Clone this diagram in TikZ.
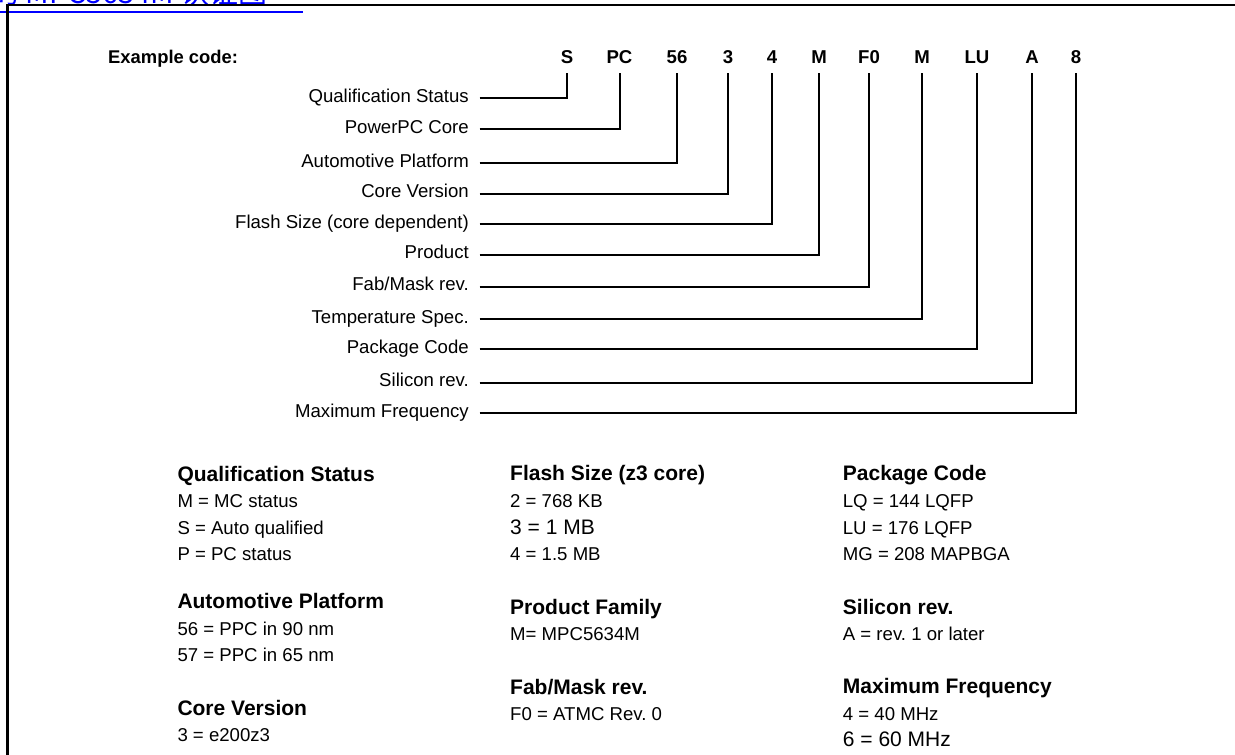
\documentclass[tikz,border=0pt]{standalone}
\usepackage{fontspec}
\setmainfont{Liberation Sans}
\newfontfamily\cjkfont{Noto Sans CJK SC}
\frenchspacing
\begin{document}
\begin{tikzpicture}[x=1pt,y=-1pt,
  lab/.style={anchor=east, inner xsep=0pt, inner ysep=0pt, text height=12pt, text depth=3.2pt, font=\fontsize{18.6}{22}\selectfont},
  codebox/.style={anchor=base, inner xsep=0pt, inner ysep=9.4pt, text depth=0pt, font=\fontsize{18.6}{22}\selectfont\bfseries},
  conn/.style={line width=2pt, shorten <=10.5pt},
  head/.style={anchor=base west, inner sep=0pt, font=\fontsize{21}{25}\selectfont\bfseries},
  row/.style={anchor=base west, inner sep=0pt, font=\fontsize{18.6}{22}\selectfont},
  rowbig/.style={anchor=base west, inner sep=0pt, font=\fontsize{21}{25}\selectfont},
]
\useasboundingbox (0,0) rectangle (1235,755);
\clip (0,0) rectangle (1235,755);

% cut-off blue heading
\node[anchor=base west, inner sep=0pt, text=blue, font=\cjkfont\fontsize{29}{30}\selectfont] (hdr) at (-10,3.5) {的 MPC5634M 认证图};
\draw[blue, line width=2pt] (0,12.3) -- (303,12.3);

% frame
\draw[line width=2.5pt] (7.5,770) -- (7.5,5) -- (1250,5);

% example code
\node[anchor=base west, inner sep=0pt, font=\fontsize{18.4}{22}\selectfont\bfseries] (ex) at (108,63.3) {Example code:};

\node[codebox] (c1) at (567,63.3) {S};
\node[codebox] (c2) at (619.5,63.3) {PC};
\node[codebox] (c3) at (677,63.3) {56};
\node[codebox] (c4) at (728,63.3) {3};
\node[codebox] (c5) at (772,63.3) {4};
\node[codebox] (c6) at (819,63.3) {M};
\node[codebox] (c7) at (869,63.3) {F0};
\node[codebox] (c8) at (922,63.3) {M};
\node[codebox] (c9) at (977,63.3) {LU};
\node[codebox] (c10) at (1032,63.3) {A};
\node[codebox] (c11) at (1076,63.3) {8};

\node[lab] (l1) at (469,98.3) {Qualification Status};
\node[lab] (l2) at (469,129.3) {PowerPC Core};
\node[lab] (l3) at (469,162.7) {Automotive Platform};
\node[lab] (l4) at (469,193.5) {Core Version};
\node[lab] (l5) at (469,224) {Flash Size (core dependent)};
\node[lab] (l6) at (469,254.5) {Product};
\node[lab] (l7) at (469,286.5) {Fab/Mask rev.};
\node[lab] (l8) at (469,318.7) {Temperature Spec.};
\node[lab] (l9) at (469,349) {Package Code};
\node[lab] (l10) at (469,382.5) {Silicon rev.};
\node[lab] (l11) at (469,413) {Maximum Frequency};

\foreach \i in {1,...,11} {
  \draw[conn] (l\i.east) -| (c\i.south);
}

% legend column 1
\node[head] (q0) at (177.3,481) {Qualification Status};
\node[row] (q1) at (177.3,507.5) {M = MC status};
\node[row] (q2) at (177.3,534) {S = Auto qualified};
\node[row] (q3) at (177.3,560) {P = PC status};
\node[head] (a0) at (177.3,608.3) {Automotive Platform};
\node[row] (a1) at (177.3,635) {56 = PPC in 90 nm};
\node[row] (a2) at (177.3,661) {57 = PPC in 65 nm};
\node[head] (v0) at (177.3,715) {Core Version};
\node[row] (v1) at (177.3,741) {3 = e200z3};

% legend column 2
\node[head] (f0) at (510,480) {Flash Size (z3 core)};
\node[row] (f1) at (510,507.3) {2 = 768 KB};
\node[rowbig] (f2) at (510,534) {3 = 1 MB};
\node[row] (f3) at (510,560) {4 = 1.5 MB};
\node[head] (p0) at (510,614.3) {Product Family};
\node[row] (p1) at (510,640.7) {M= MPC5634M};
\node[head] (m0) at (510,694.3) {Fab/Mask rev.};
\node[row] (m1) at (510,720) {F0 = ATMC Rev. 0};

% legend column 3
\node[head] (k0) at (842.7,480.7) {Package Code};
\node[row] (k1) at (842.7,507.3) {LQ = 144 LQFP};
\node[row] (k2) at (842.7,534) {LU = 176 LQFP};
\node[row] (k3) at (842.7,560) {MG = 208 MAPBGA};
\node[head] (s0) at (842.7,614) {Silicon rev.};
\node[row] (s1) at (842.7,640) {A = rev. 1 or later};
\node[head] (x0) at (842.7,693.3) {Maximum Frequency};
\node[row] (x1) at (842.7,720) {4 = 40 MHz};
\node[rowbig] (x2) at (842.7,746.7) {6 = 60 MHz};
\end{tikzpicture}
\end{document}
